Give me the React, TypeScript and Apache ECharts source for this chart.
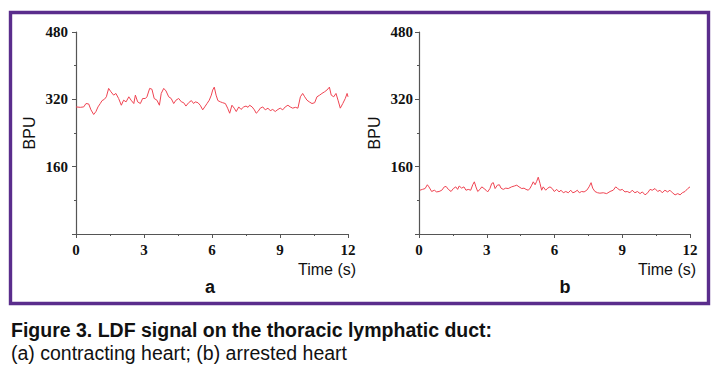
import React, { useEffect, useRef } from "react";
import * as echarts from "echarts";

// Panel a: contracting heart (time in s, BPU)
const timeA = [0.0, 0.19, 0.34, 0.44, 0.56, 0.66, 0.78, 0.88, 0.97, 1.07, 1.15, 1.25, 1.34, 1.44, 1.54, 1.66, 1.76, 1.88, 2.0, 2.1, 2.21, 2.33, 2.43, 2.55, 2.62, 2.72, 2.84, 2.94, 3.06, 3.13, 3.25, 3.35, 3.45, 3.57, 3.68, 3.76, 3.87, 3.97, 4.09, 4.2, 4.31, 4.41, 4.53, 4.65, 4.75, 4.85, 4.97, 5.09, 5.19, 5.26, 5.38, 5.48, 5.59, 5.68, 5.78, 5.88, 5.97, 6.03, 6.1, 6.18, 6.26, 6.37, 6.47, 6.59, 6.69, 6.78, 6.88, 6.98, 7.07, 7.18, 7.28, 7.4, 7.5, 7.59, 7.66, 7.77, 7.87, 7.95, 8.03, 8.13, 8.24, 8.35, 8.47, 8.57, 8.68, 8.79, 8.91, 9.01, 9.12, 9.23, 9.35, 9.45, 9.56, 9.68, 9.79, 9.9, 10.0, 10.09, 10.19, 10.29, 10.41, 10.53, 10.63, 10.75, 10.85, 10.97, 11.07, 11.18, 11.26, 11.37, 11.47, 11.56, 11.66, 11.77, 11.88, 11.96, 12.0];
const bpuA = [302, 301, 302, 310, 309, 295, 284, 291, 302, 310, 317, 320, 326, 346, 338, 330, 334, 322, 306, 318, 314, 326, 318, 310, 330, 314, 310, 322, 322, 326, 346, 344, 322, 318, 306, 334, 346, 340, 326, 322, 310, 318, 322, 314, 312, 304, 312, 317, 310, 314, 312, 306, 295, 302, 310, 318, 330, 342, 349, 330, 317, 314, 312, 310, 299, 287, 306, 299, 291, 302, 296, 302, 304, 301, 306, 302, 295, 287, 291, 299, 302, 295, 299, 293, 296, 291, 296, 299, 295, 302, 306, 302, 299, 301, 299, 326, 334, 326, 318, 314, 310, 312, 326, 330, 334, 338, 342, 349, 330, 326, 334, 318, 299, 310, 322, 334, 326];

// Panel b: arrested heart
const timeB = [0.04, 0.15, 0.27, 0.37, 0.44, 0.56, 0.68, 0.78, 0.89, 1.01, 1.12, 1.2, 1.3, 1.42, 1.52, 1.63, 1.71, 1.78, 1.89, 1.99, 2.08, 2.18, 2.29, 2.38, 2.45, 2.52, 2.6, 2.7, 2.78, 2.88, 2.97, 3.04, 3.14, 3.22, 3.29, 3.37, 3.47, 3.56, 3.63, 3.73, 3.84, 3.95, 4.1, 4.22, 4.33, 4.43, 4.55, 4.65, 4.74, 4.84, 4.92, 4.99, 5.06, 5.14, 5.21, 5.28, 5.36, 5.43, 5.5, 5.61, 5.7, 5.8, 5.9, 5.99, 6.1, 6.2, 6.29, 6.39, 6.5, 6.61, 6.72, 6.81, 6.91, 7.01, 7.1, 7.2, 7.31, 7.43, 7.53, 7.62, 7.69, 7.79, 7.91, 8.01, 8.16, 8.31, 8.46, 8.6, 8.71, 8.8, 8.9, 9.0, 9.12, 9.22, 9.34, 9.44, 9.56, 9.67, 9.79, 9.89, 10.01, 10.13, 10.23, 10.33, 10.45, 10.57, 10.67, 10.77, 10.89, 11.01, 11.11, 11.22, 11.34, 11.46, 11.56, 11.66, 11.78, 11.9, 12.0];
const bpuB = [104, 106, 108, 117, 112, 101, 104, 100, 101, 104, 112, 113, 106, 101, 108, 112, 106, 114, 109, 112, 104, 106, 104, 117, 124, 112, 101, 106, 112, 108, 104, 100, 108, 120, 122, 108, 116, 117, 109, 106, 109, 108, 112, 114, 116, 112, 108, 109, 106, 104, 109, 116, 124, 117, 125, 135, 120, 104, 112, 104, 109, 112, 108, 101, 106, 100, 104, 98, 101, 98, 104, 98, 100, 104, 98, 101, 100, 104, 112, 122, 109, 101, 98, 97, 98, 96, 101, 104, 112, 108, 104, 106, 100, 101, 98, 104, 98, 101, 96, 100, 93, 98, 106, 104, 108, 101, 104, 98, 104, 100, 104, 98, 93, 96, 93, 98, 101, 108, 112];

const yMin = 0;
const yMax = 480;
const yInterval = 160;
const xMin = 0;
const xMax = 12;
const xInterval = 3;

const yAxisTitle = "BPU";
const xAxisTitle = "Time (s)";
const panelLabels = ["a", "b"];
const captionTitle = "Figure 3. LDF signal on the thoracic lymphatic duct:";
const captionText = "(a) contracting heart; (b) arrested heart";

const pairs = (t: number[], v: number[]) => t.map((x, i) => [x, v[i]]);

export default function App() {
  const ref = useRef<HTMLDivElement>(null);

  useEffect(() => {
    if (!ref.current) return;
    const chart = echarts.init(ref.current, null, { renderer: "svg" });

    const axisColor = "#555";
    const tickFont = {
      fontFamily: "Liberation Serif",
      fontWeight: "bold" as const,
      fontSize: 15,
      color: "#111",
    };

    const makeX = (gridIndex: number) => ({
      type: "value" as const,
      gridIndex,
      min: xMin,
      max: xMax,
      interval: xInterval,
      axisLine: { show: true, lineStyle: { color: axisColor, width: 1.2 } },
      axisTick: { show: true, length: 4, lineStyle: { color: axisColor } },
      minorTick: { show: true, splitNumber: 2, length: 2, lineStyle: { color: axisColor } },
      splitLine: { show: false },
      axisLabel: { ...tickFont, margin: 8 },
    });

    const makeY = (gridIndex: number, margin: number, nameGap: number) => ({
      type: "value" as const,
      gridIndex,
      min: yMin,
      max: yMax,
      interval: yInterval,
      name: yAxisTitle,
      nameLocation: "middle" as const,
      nameGap,
      nameRotate: 90,
      nameTextStyle: { fontFamily: "Liberation Sans", fontSize: 16, color: "#111" },
      axisLine: { show: true, onZero: false, lineStyle: { color: axisColor, width: 1.2 } },
      axisTick: { show: true, length: 4, lineStyle: { color: axisColor } },
      minorTick: { show: true, splitNumber: 2, length: 2, lineStyle: { color: axisColor } },
      splitLine: { show: false },
      axisLabel: { ...tickFont, margin, showMinLabel: false },
    });

    const textStyle = (text: string, size: number, bold = false) => ({
      text,
      fontFamily: "Liberation Sans",
      fontSize: size,
      fontWeight: bold ? "bold" : "normal",
      fill: "#111",
    });

    chart.setOption({
      animation: false,
      backgroundColor: "#fff",
      grid: [
        { left: 76, top: 32, width: 272, height: 202 },
        { left: 419, top: 32, width: 271, height: 202 },
      ],
      xAxis: [makeX(0), makeX(1)],
      yAxis: [makeY(0, 8, 39), makeY(1, 6, 37)],
      series: [
        {
          type: "line",
          xAxisIndex: 0,
          yAxisIndex: 0,
          data: pairs(timeA, bpuA),
          showSymbol: false,
          lineStyle: { color: "#ef4452", width: 1 },
        },
        {
          type: "line",
          xAxisIndex: 1,
          yAxisIndex: 1,
          data: pairs(timeB, bpuB),
          showSymbol: false,
          lineStyle: { color: "#ef4452", width: 1 },
        },
      ],
      graphic: [
        {
          type: "rect",
          shape: { x: 10.5, y: 12.5, width: 698, height: 291 },
          style: { fill: "none", stroke: "#5a2d8c", lineWidth: 3.4 },
          silent: true,
        },
        {
          type: "text",
          x: 298,
          y: 269,
          style: { ...textStyle(xAxisTitle, 16), textAlign: "left", textVerticalAlign: "middle" },
        },
        {
          type: "text",
          x: 638,
          y: 269,
          style: { ...textStyle(xAxisTitle, 16), textAlign: "left", textVerticalAlign: "middle" },
        },
        {
          type: "text",
          x: 210,
          y: 287,
          style: { ...textStyle(panelLabels[0], 18, true), textAlign: "center", textVerticalAlign: "middle" },
        },
        {
          type: "text",
          x: 565,
          y: 287,
          style: { ...textStyle(panelLabels[1], 18, true), textAlign: "center", textVerticalAlign: "middle" },
        },
        {
          type: "text",
          x: 11,
          y: 330,
          style: { ...textStyle(captionTitle, 19.5, true), textAlign: "left", textVerticalAlign: "middle" },
        },
        {
          type: "text",
          x: 11,
          y: 353,
          style: { ...textStyle(captionText, 19.5), textAlign: "left", textVerticalAlign: "middle" },
        },
      ],
    });

    return () => chart.dispose();
  }, []);

  return (
    <div
      ref={ref}
      style={{ position: "absolute", left: 0, top: 0, width: 721, height: 376, background: "#fff" }}
    />
  );
}
